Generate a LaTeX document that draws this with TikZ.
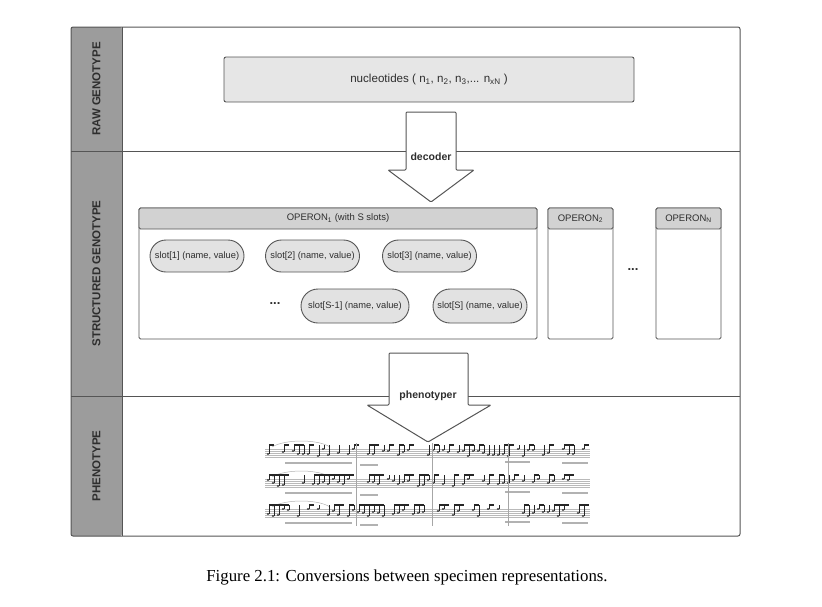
\documentclass[tikz,border=0pt]{standalone}
\usepackage{fontspec}
\setmainfont{Liberation Serif}
\setsansfont{Liberation Sans}
\usetikzlibrary{shapes.misc}

\definecolor{edge}{HTML}{555555}
\definecolor{lanefill}{HTML}{9C9C9C}
\definecolor{lanetext}{HTML}{2E2E2E}
\definecolor{boxfill}{HTML}{E6E6E6}
\definecolor{headfill}{HTML}{D2D2D2}
\definecolor{slotfill}{HTML}{E2E2E2}

\tikzset{
  lanelabel/.style={rotate=90, font=\sffamily\bfseries\fontsize{11.5}{13}\selectfont, text=lanetext},
  nucbox/.style={draw=edge, line width=0.9pt, fill=boxfill, rounded corners=2pt, font=\sffamily\fontsize{11.6}{13}\selectfont, text=lanetext},
  opbox/.style={draw=edge, line width=0.9pt, fill=white, rounded corners=1.5pt, inner sep=0pt},
  ophead/.style={draw=edge, line width=0.9pt, fill=headfill, rounded corners=1.5pt, inner sep=0pt, minimum height=21, anchor=north, font=\sffamily\fontsize{9.5}{11}\selectfont, text=lanetext},
  slotnode/.style={rounded rectangle, draw=edge, line width=0.9pt, fill=slotfill, minimum width=96, minimum height=32, inner sep=1pt, font=\sffamily\fontsize{9.3}{11}\selectfont, text=lanetext},
  bigarrow/.style={draw=edge, line width=1pt, fill=white, rounded corners=1pt},
  arrowtext/.style={font=\sffamily\bfseries\fontsize{10.5}{12}\selectfont, text=lanetext},
  dotsnode/.style={font=\sffamily\bfseries\fontsize{13}{14}\selectfont, text=lanetext},
  staffline/.style={gray!55, line width=0.35pt},
}

\begin{document}
\begin{tikzpicture}[x=1pt, y=-1pt]
    \useasboundingbox (0,0) rectangle (822,606);

    % lanes
    \fill[lanefill, rounded corners=2pt] (71,27) rectangle (122,536);
    \draw[edge, line width=1pt, rounded corners=2pt] (71,27) rectangle (740,536);
    \draw[edge, line width=1pt] (122,27) -- (122,536);
    \draw[edge, line width=1pt] (71,151) -- (740,151);
    \draw[edge, line width=1pt] (71,396) -- (740,396);
    \node[lanelabel] (rawlab) at (96.5,89) {RAW GENOTYPE};
    \node[lanelabel] (structlab) at (96.5,273.5) {STRUCTURED GENOTYPE};
    \node[lanelabel] (phenolab) at (96.5,466) {PHENOTYPE};

    % raw genotype
    \node[nucbox, minimum width=410, minimum height=45] (nuc) at (429,79.5)
        {nucleotides ( n\textsubscript{1}, n\textsubscript{2}, n\textsubscript{3},... n\textsubscript{xN} )};

    % decoder arrow
    \draw[bigarrow] (406,112) -- (456,112) -- (456,170) -- (474,170) -- (431,202)
        -- (388,170) -- (406,170) -- cycle;
    \node[arrowtext] (dec) at (431,157) {decoder};

    % operons
    \node[opbox, minimum width=398, minimum height=131] (op1) at (338,273.5) {};
    \node[ophead, minimum width=398] (op1h) at (op1.north) {OPERON\textsubscript{1} (with S slots)};
    \node[opbox, minimum width=65, minimum height=131] (op2) at (580.5,273.5) {};
    \node[ophead, minimum width=65] (op2h) at (op2.north) {OPERON\textsubscript{2}};
    \node[opbox, minimum width=65, minimum height=131] (opN) at (688.5,273.5) {};
    \node[ophead, minimum width=65] (opNh) at (opN.north) {OPERON\textsubscript{N}};
    \node[dotsnode] (opdots) at (633,270) {...};

    % slots
    \node[slotnode] (s1) at (197,256) {slot[1] (name, value)};
    \node[slotnode] (s2) at (312.5,256) {slot[2] (name, value)};
    \node[slotnode] (s3) at (429.5,256) {slot[3] (name, value)};
    \node[dotsnode] (slotdots) at (275,304) {...};
    \node[slotnode, minimum width=110, minimum height=34] (sm) at (355,306) {slot[S-1] (name, value)};
    \node[slotnode, minimum height=34] (sS) at (480,306) {slot[S] (name, value)};

    % score
    \pgfmathsetseed{11}
    \foreach \row in {453,483,513} {
      \foreach \k in {-4,-2,...,4}
        \draw[staffline] (265,\row+\k) -- (590,\row+\k);
      \draw[gray!60, line width=1.1pt] (285,\row+10) -- (352,\row+10);
      \draw[gray!60, line width=1.1pt] (360,\row+12) -- (378,\row+12);
      \draw[gray!60, line width=1.1pt] (505,\row+9) -- (530,\row+9);
      \draw[gray!60, line width=1.1pt] (562,\row+10) -- (588,\row+10);
      \draw[gray!60, line width=0.5pt] (272,\row-6) .. controls (285,\row-14) and (318,\row-14) .. (330,\row-6);
      \foreach \x in {268,273,...,586} {
        \pgfmathsetmacro\notedy{int(rnd*8)-4}
        \pgfmathsetmacro\notekeep{rnd}
        \ifdim\notekeep pt>0.25pt
          \fill[black!85] (\x,\row+\notedy) ellipse (1.3 and 0.9);
          \draw[black!85, line width=0.5pt] (\x+1.2,\row+\notedy) -- (\x+1.2,\row-8);
          \pgfmathsetmacro\notebeam{rnd}
          \ifdim\notebeam pt>0.3pt
            \draw[black!85, line width=1.1pt] (\x+1.2,\row-8) -- (\x+6.2,\row-8);
          \fi
        \fi
      }
    }
    \foreach \x in {356,432,508}
      \draw[gray!70, line width=0.5pt] (\x,443) -- (\x,526);

    % phenotyper arrow
    \draw[bigarrow] (389,353) -- (468,353) -- (468,405) -- (491,405) -- (428,442)
        -- (367,405) -- (389,405) -- cycle;
    \node[arrowtext] (phe) at (428,396) {phenotyper};

    % caption
    \node[font=\fontsize{16.8}{19}\selectfont] (caption) at (407,577)
        {Figure 2.1: Conversions between specimen representations.};
\end{tikzpicture}
\end{document}
